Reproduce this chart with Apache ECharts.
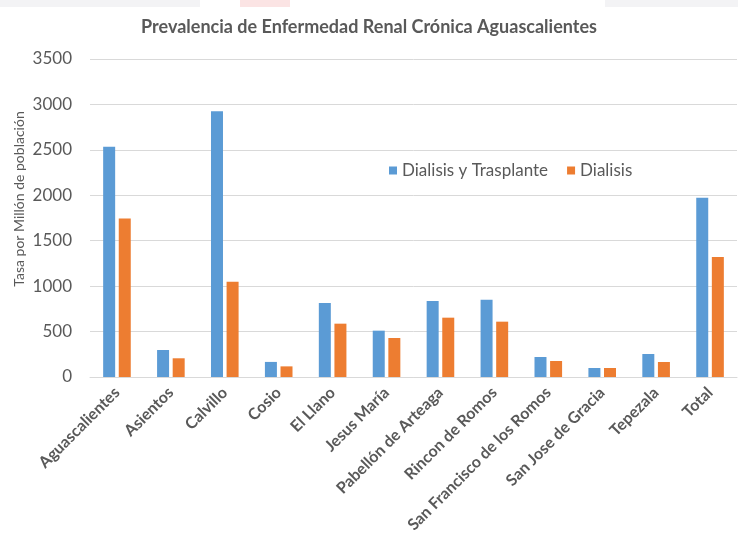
<!DOCTYPE html>
<html>
<head>
<meta charset="utf-8">
<script src="https://cdn.jsdelivr.net/npm/echarts@6/dist/echarts.min.js"></script>
<style>
html,body{margin:0;padding:0;background:#fff;}
#chart{width:738px;height:534px;}
</style>
</head>
<body>
<div id="chart"></div>
<script>
var categories = ["Aguascalientes","Asientos","Calvillo","Cosio","El Llano","Jesus María","Pabellón de Arteaga","Rincon de Romos","San Francisco de los Romos","San Jose de Gracia","Tepezala","Total"];
var dialisisTrasplante = [2533, 297, 2926, 166, 814, 510, 836, 851, 220, 99, 253, 1973];
var dialisis = [1744, 206, 1048, 117, 587, 429, 653, 609, 176, 99, 165, 1320];
var yTicks = {min: 0, max: 3500, interval: 500};
var seriesNames = ["Dialisis y Trasplante", "Dialisis"];
var titleText = "Prevalencia de Enfermedad Renal Crónica Aguascalientes";
var yAxisTitle = "Tasa por Millón de población";

var FONT = "Lato, 'Open Sans', sans-serif";
var TXT = "#595959";
var chart = echarts.init(document.getElementById('chart'), null, {renderer: 'canvas'});
chart.setOption({
  animation: false,
  backgroundColor: '#ffffff',
  title: {
    text: titleText, left: 'center', top: 13,
    textStyle: {fontFamily: FONT, fontSize: 18, fontWeight: 'bold', color: TXT}
  },
  legend: {
    data: seriesNames, left: 384, top: 157, icon: 'rect',
    itemWidth: 8, itemHeight: 8, itemGap: 19,
    textStyle: {fontFamily: FONT, fontSize: 17, color: TXT}
  },
  grid: {left: 90, right: 1, top: 59, bottom: 157, containLabel: false, outerBoundsMode: 'none'},
  xAxis: {
    type: 'category', data: categories,
    axisLine: {lineStyle: {color: '#d9d9d9'}},
    axisTick: {show: false},
    axisLabel: {interval: 0, rotate: 45, margin: 13, padding: [8, 0, 0, 0], fontFamily: FONT, fontSize: 16, fontWeight: 'bold', color: TXT}
  },
  yAxis: {
    type: 'value', min: yTicks.min, max: yTicks.max, interval: yTicks.interval,
    axisLine: {show: false}, axisTick: {show: false},
    splitLine: {lineStyle: {color: '#d9d9d9', width: 1}},
    axisLabel: {margin: 18, fontFamily: FONT, fontSize: 17, color: TXT,
      formatter: function (v) { return String(v); }}
  },
  graphic: [
    {type: 'rect', left: 0, top: 0, shape: {width: 200, height: 7}, style: {fill: '#f3f3f5'}, silent: true},
    {type: 'rect', left: 605, top: 0, shape: {width: 133, height: 7}, style: {fill: '#f3f3f5'}, silent: true},
    {type: 'rect', left: 240, top: 0, shape: {width: 50, height: 7}, style: {fill: '#fbe4e4'}, silent: true},
    {type: 'text', x: 19, y: 199, rotation: Math.PI / 2,
     style: {text: yAxisTitle, fontFamily: FONT, fontSize: 14, fill: TXT, textAlign: 'center', textVerticalAlign: 'middle'}}
  ],
  series: [
    {name: seriesNames[0], type: 'bar', data: dialisisTrasplante, barWidth: 12, barGap: '30%',
     itemStyle: {color: '#5b9bd5'}},
    {name: seriesNames[1], type: 'bar', data: dialisis, barWidth: 12,
     itemStyle: {color: '#ed7d31'}}
  ]
});
</script>
</body>
</html>
